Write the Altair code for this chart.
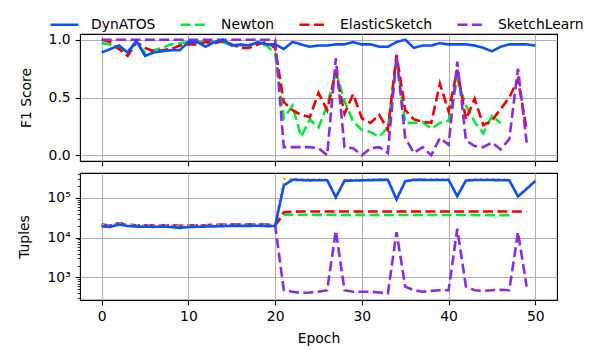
import altair as alt
import pandas as pd

epochs = list(range(51))
series_names = ["DynATOS", "Newton", "ElasticSketch", "SketchLearn"]
series_colors = ["#0a50ff", "#00e83a", "#ee0000", "#8a2be2"]
series_dashes = [[1, 0], [10, 4.4], [10, 4.4], [10, 4.4]]

# ---- F1 score (top panel) ----
f1_dynatos = [0.89, 0.92, 0.95, 0.89, 0.99, 0.86, 0.89, 0.90, 0.91, 0.91,
              0.98, 0.98, 0.94, 0.98, 1.00, 0.95, 0.96, 0.95, 0.98, 0.96,
              0.96, 0.92, 0.98, 0.96, 0.94, 0.95, 0.95, 0.96, 0.96, 0.98,
              0.96, 0.96, 0.94, 0.94, 0.98, 1.00, 0.93, 0.95, 0.95, 0.97,
              0.96, 0.96, 0.96, 0.95, 0.93, 0.90, 0.94, 0.96, 0.96, 0.96,
              0.95]
f1_newton = [0.97, 0.96, 0.92, 0.90, 0.97, 0.89, 0.91, 0.93, 0.96, 0.97,
             0.98, 0.99, 0.98, 0.98, 0.98, 0.95, 0.95, 0.96, 0.97, 0.95,
             0.88, 0.32, 0.43, 0.16, 0.31, 0.24, 0.43, 0.72, 0.47, 0.29,
             0.22, 0.20, 0.16, 0.24, 0.82, 0.28, 0.28, 0.29, 0.23, 0.28,
             0.30, 0.66, 0.43, 0.29, 0.19, 0.34, 0.28, None, None, None,
             None]
f1_elastic = [1.00, 0.98, 0.92, 0.86, 0.98, 0.93, 0.90, 0.91, 0.92, 0.95,
              0.96, 0.96, 0.98, 0.97, 0.99, 0.96, 0.93, 0.93, 0.96, 0.98,
              0.93, 0.46, 0.39, 0.35, 0.33, 0.54, 0.39, 0.72, 0.36, 0.53,
              0.32, 0.28, 0.35, 0.22, 0.87, 0.39, 0.31, 0.29, 0.28, 0.62,
              0.38, 0.74, 0.31, 0.49, 0.26, 0.30, 0.40, 0.50, 0.66, 0.22,
              None]
f1_sketchlearn = [1.0] * 21 + [
              0.07, 0.07, 0.07, 0.07, 0.06, 0.00, 0.84, 0.07, 0.06,
              0.00, 0.06, 0.07, 0.02, 0.86, 0.15, 0.02, 0.07, 0.00, 0.15,
              0.09, 0.81, 0.13, 0.08, 0.07, 0.11, 0.05, 0.14, 0.75, 0.11,
              None]

# ---- Tuples (bottom panel) ----
tp_dynatos = [19200, 18600, 21500, 19600, 19000, 18800, 18700, 19000, 18500, 17600,
              18500, 18800, 19000, 19200, 19500, 19800, 19700, 19800, 19900, 19500,
              19600, 205000, 285000, 280000, 275000, 278000, 278000, 103000, 270000, 272000,
              275000, 278000, 283000, 283000, 91000, 262000, 282000, 283000, 280000, 280000,
              282000, 110000, 272000, 280000, 280000, 280000, 278000, 275000, 108000, 168000,
              265000]
tp_total = [20800, 20200, 23200, 21200, 20700, 20500, 20400, 20600, 20300, 19600,
            20300, 20500, 20700, 20900, 21200, 21400, 21300, 21400, 21500, 21100,
            21200, 300000, 300000, 294000, 290000, 292000, 292000, 108000, 284000, 286000,
            289000, 292000, 297000, 297000, 96000, 276000, 296000, 297000, 294000, 294000,
            296000, 115000, 286000, 294000, 294000, 294000, 292000, 289000, 113000, 176000,
            278000]
tp_newton = [21200, 20300, 23000, 21000, 20600, 20400, 20400, 20500, 20200, 19700,
             20200, 20400, 20600, 20800, 21100, 21300, 21200, 21300, 21400, 21000,
             20500, 38000, 37800, 37600, 37500, 37400, 37500, 37300, 37200, 37300,
             37300, 37200, 37300, 37200, 37200, 37100, 37200, 37100, 37100, 37000,
             37100, 37000, 37000, 36900, 37000, 36900, 36900, 36900, None, None,
             None]
tp_elastic = [21000, 20200, 23000, 21000, 20600, 20400, 20400, 20500, 20200, 19700,
              20200, 20400, 20600, 20800, 21100, 21300, 21200, 21300, 21400, 21000,
              20500, 43500, 45000, 45500, 45500, 45500, 45500, 45500, 45500, 45600,
              45500, 45400, 45500, 45500, 45600, 45500, 45500, 45400, 45500, 45500,
              45400, 45500, 45500, 45400, 45500, 45500, 45400, 45500, 45500, 45500,
              None]
tp_sketchlearn = [21000, 20200, 23000, 21000, 20600, 20400, 20400, 20500, 20200, 19700,
                  20200, 20400, 20600, 20800, 21100, 21300, 21200, 21300, 21400, 21000,
                  20500, 480, 440, 410, 420, 440, 480, 15000, 480, 440,
                  440, 440, 420, 400, 13800, 590, 480, 440, 460, 480,
                  480, 16700, 590, 480, 460, 480, 490, 480, 13800, 590,
                  None]

x_ticks = [0, 10, 20, 30, 40, 50]
f1_ticks = [0.0, 0.5, 1.0]
tuple_major = [1000, 10000, 100000]
tuple_minor = [300, 400, 500, 600, 700, 800, 900,
               2000, 3000, 4000, 5000, 6000, 7000, 8000, 9000,
               20000, 30000, 40000, 50000, 60000, 70000, 80000, 90000,
               200000, 300000, 400000]


def long_frame(named_lists):
    rows = []
    for name, vals in named_lists:
        for e, v in zip(epochs, vals):
            if v is not None:
                rows.append({"epoch": e, "value": v, "series": name})
    return pd.DataFrame(rows)


f1_df = long_frame([("DynATOS", f1_dynatos), ("Newton", f1_newton),
                    ("ElasticSketch", f1_elastic), ("SketchLearn", f1_sketchlearn)])
tp_df = long_frame([("DynATOS", tp_dynatos), ("Newton", tp_newton),
                    ("ElasticSketch", tp_elastic), ("SketchLearn", tp_sketchlearn)])
total_df = pd.DataFrame({"epoch": epochs, "value": tp_total})

FONT = "DejaVu Sans"
FS = 13.9
W, H = 477, 127

legend_def = alt.Legend(title=None, orient="none", legendX=-31, legendY=-25,
                        direction="horizontal",
                        symbolType="stroke", symbolSize=784,
                        symbolStrokeWidth=2.6, labelFontSize=FS,
                        labelFont=FONT, labelColor="black",
                        columnPadding=19, labelOffset=11)

x_scale = alt.Scale(domain=[-2.5, 52.5], nice=False, zero=False)
color_scale = alt.Scale(domain=series_names, range=series_colors)
dash_scale = alt.Scale(domain=series_names, range=series_dashes)

draw_order = ["Newton", "ElasticSketch", "SketchLearn", "DynATOS"]


def panel(df, y_enc, x_axis, legend, extra_layers_before_blue=None):
    layers = []
    for name in draw_order:
        if name == "DynATOS" and extra_layers_before_blue is not None:
            layers.append(extra_layers_before_blue)
        layers.append(
            alt.Chart(df).transform_filter(alt.datum.series == name)
            .mark_line(strokeWidth=2.6, clip=True)
            .encode(x=alt.X("epoch:Q", scale=x_scale, axis=x_axis),
                    y=y_enc,
                    color=alt.Color("series:N", scale=color_scale, legend=legend),
                    strokeDash=alt.StrokeDash("series:N", scale=dash_scale, legend=legend))
        )
    return alt.layer(*layers).properties(width=W, height=H)


top_x_axis = alt.Axis(values=x_ticks, labels=False, title=None)
bot_x_axis = alt.Axis(values=x_ticks, format="d", title="Epoch", titlePadding=8)

top_y = alt.Y("value:Q", scale=alt.Scale(domain=[-0.05, 1.05], nice=False, zero=False),
              axis=alt.Axis(values=f1_ticks, format=".1f", title="F1 Score", titlePadding=15))

major_test = "datum.value == 1000 || datum.value == 10000 || datum.value == 100000"
bot_y = alt.Y("value:Q",
              scale=alt.Scale(type="log", domain=[272, 421000], nice=False),
              axis=alt.Axis(values=tuple_major + tuple_minor,
                            labelExpr="datum.value == 1000 ? '10³' : datum.value == 10000 ? '10⁴' : datum.value == 100000 ? '10⁵' : ''",
                            tickSize={"condition": {"test": major_test, "value": 4.9}, "value": 2.8},
                            tickWidth={"condition": {"test": major_test, "value": 1.1}, "value": 0.8},
                            gridOpacity={"condition": {"test": major_test, "value": 1}, "value": 0},
                            title="Tuples", titlePadding=15))

orange = (alt.Chart(total_df).mark_line(color="orange", strokeWidth=2.2, strokeDash=[2.2, 3.6], clip=True)
          .encode(x=alt.X("epoch:Q", scale=x_scale, axis=bot_x_axis), y=bot_y))

top = panel(f1_df, top_y, top_x_axis, legend_def)
bottom = panel(tp_df, bot_y, bot_x_axis, None, extra_layers_before_blue=orange)

chart = alt.vconcat(top, bottom, spacing=5).resolve_legend(
    color="independent", strokeDash="independent"
).properties(
    padding={"left": 9, "right": 0, "top": 0, "bottom": 0}
).configure_view(
    stroke="black", strokeWidth=1.1
).configure_axis(
    domain=False, grid=True, gridColor="#b0b0b0", gridWidth=1.1,
    tickColor="black", tickWidth=1.1, tickSize=4.9,
    labelFont=FONT, labelFontSize=FS, labelColor="black", labelPadding=4.9,
    titleFont=FONT, titleFontSize=FS, titleColor="black", titleFontWeight="normal",
    titlePadding=5.6
)

chart.save("out.html", embed_options={"renderer": "svg", "actions": False})
